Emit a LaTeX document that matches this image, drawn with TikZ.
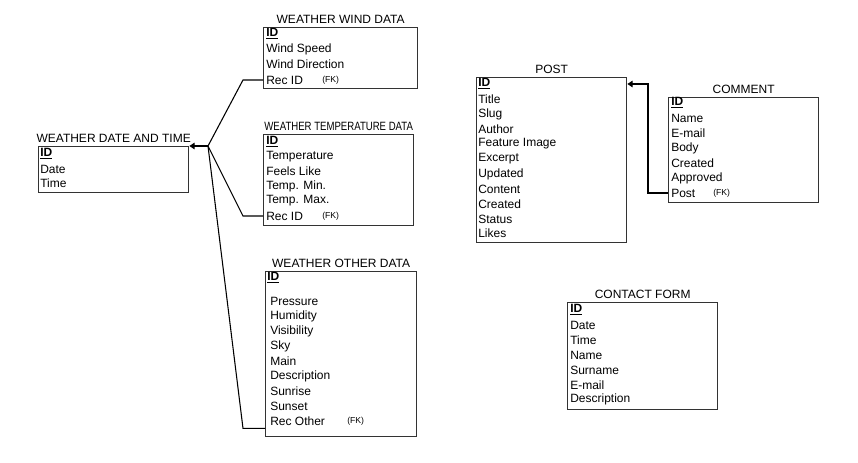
\documentclass[tikz,border=0pt]{standalone}
\usepackage{fontspec}
\setmainfont{Liberation Sans}
\usetikzlibrary{arrows.meta}

\tikzset{
  table/.style={draw=black!80, line width=1pt, inner sep=0pt, anchor=north west},
  tabletitle/.style={anchor=south, inner sep=0pt, yshift=2.5pt, font=\fontsize{9}{10}\selectfont},
  field/.style={anchor=west, inner sep=0pt, font=\fontsize{9}{10}\selectfont},
  fk/.style={anchor=west, inner sep=0pt, font=\fontsize{6.5}{7}\selectfont},
  link/.style={draw=black, line width=0.8pt},
}

\begin{document}
\begin{tikzpicture}[x=0.75pt, y=-0.75pt]
        \useasboundingbox (0,0) rectangle (858,463);

        % Weather date and time
        \node[table, minimum width=112.5pt, minimum height=34.5pt] (dt) at (38,146) {};
        \node[tabletitle] (dttitle) at (dt.north) {WEATHER DATE AND TIME};
        \node[field] (dtid) at (40,154) {\underline{\textbf{ID}}};
        \node[field] (dtdate) at (40,169) {Date};
        \node[field] (dttime) at (40,183) {Time};

        % Weather wind data
        \node[table, minimum width=115.5pt, minimum height=45.75pt] (wind) at (263,27) {};
        \node[tabletitle] (windtitle) at (wind.north) {WEATHER WIND DATA};
        \node[field] (windid) at (266,34) {\underline{\textbf{ID}}};
        \node[field] (windspeed) at (266,49) {Wind Speed};
        \node[field] (winddir) at (266,64) {Wind Direction};
        \node[field] (windrec) at (266,80) {Rec ID};
        \node[fk] (windfk) at (322,80) {(FK)};

        % Weather temperature data
        \node[table, minimum width=112.5pt, minimum height=68.25pt] (temp) at (263,134) {};
        \node[tabletitle] (temptitle) at (temp.north) {\scalebox{0.8}[1]{WEATHER TEMPERATURE DATA}};
        \node[field] (tempid) at (266,142) {\underline{\textbf{ID}}};
        \node[field] (temptemp) at (266,157) {Temperature};
        \node[field] (tempfeels) at (266,171) {Feels Like};
        \node[field] (tempmin) at (266,186) {Temp. Min.};
        \node[field] (tempmax) at (266,201) {Temp. Max.};
        \node[field] (temprec) at (266,216) {Rec ID};
        \node[fk] (tempfk) at (322,216) {(FK)};

        % Weather other data
        \node[table, minimum width=113.25pt, minimum height=123.75pt] (other) at (265,271) {};
        \node[tabletitle] (othertitle) at (other.north) {WEATHER OTHER DATA};
        \node[field] (otherid) at (267,278) {\underline{\textbf{ID}}};
        \node[field] (otherpress) at (270,301) {Pressure};
        \node[field] (otherhum) at (270,316) {Humidity};
        \node[field] (othervis) at (270,331) {Visibility};
        \node[field] (othersky) at (270,346) {Sky};
        \node[field] (othermain) at (270,361) {Main};
        \node[field] (otherdesc) at (270,376) {Description};
        \node[field] (othersunrise) at (270,391) {Sunrise};
        \node[field] (othersunset) at (270,406) {Sunset};
        \node[field] (otherrec) at (270,421) {Rec Other};
        \node[fk] (otherfk) at (347,421) {(FK)};

        % Post
        \node[table, minimum width=112.5pt, minimum height=123.75pt] (post) at (476,77) {};
        \node[tabletitle] (posttitle) at (post.north) {POST};
        \node[field] (postid) at (478,84) {\underline{\textbf{ID}}};
        \node[field] (posttitlef) at (478,99) {Title};
        \node[field] (postslug) at (478,114) {Slug};
        \node[field] (postauthor) at (478,129) {Author};
        \node[field] (postimage) at (478,144) {Feature Image};
        \node[field] (postexcerpt) at (478,159) {Excerpt};
        \node[field] (postupdated) at (478,174) {Updated};
        \node[field] (postcontent) at (478,189) {Content};
        \node[field] (postcreated) at (478,204) {Created};
        \node[field] (poststatus) at (478,219) {Status};
        \node[field] (postlikes) at (478,233) {Likes};

        % Comment
        \node[table, minimum width=112.5pt, minimum height=78.75pt] (comment) at (668,97) {};
        \node[tabletitle] (commenttitle) at (comment.north) {COMMENT};
        \node[field] (commentid) at (671,103) {\underline{\textbf{ID}}};
        \node[field] (commentname) at (671,118) {Name};
        \node[field] (commentmail) at (671,133) {E-mail};
        \node[field] (commentbody) at (671,148) {Body};
        \node[field] (commentcreated) at (671,163) {Created};
        \node[field] (commentapproved) at (671,178) {Approved};
        \node[field] (commentpost) at (671,193) {Post};
        \node[fk] (commentfk) at (713,193) {(FK)};

        % Contact form
        \node[table, minimum width=112.5pt, minimum height=80.25pt] (contact) at (567,302) {};
        \node[tabletitle] (contacttitle) at (contact.north) {CONTACT FORM};
        \node[field] (contactid) at (570,310) {\underline{\textbf{ID}}};
        \node[field] (contactdate) at (570,325) {Date};
        \node[field] (contacttime) at (570,340) {Time};
        \node[field] (contactname) at (570,355) {Name};
        \node[field] (contactsurname) at (570,370) {Surname};
        \node[field] (contactmail) at (570,385) {E-mail};
        \node[field] (contactdesc) at (570,399) {Description};

        % Links
        \coordinate (fork) at (208,146);
        \draw[link, -{Triangle[length=4pt, width=5pt]}] (fork) -- (dt.north east);
        \draw[link] (wind.west |- windrec) -- ++(-20,0) -- (fork);
        \draw[link] (temp.west |- temprec) -- ++(-20,0) -- (fork);
        \draw[link] (other.south west) ++(0,-9) -- ++(-22,0) -- (fork);
        \draw[link, -{Triangle[length=4pt, width=5pt]}] (comment.west |- commentpost) -- ++(-20,0) |- (post.east |- postid);
    \end{tikzpicture}
\end{document}
